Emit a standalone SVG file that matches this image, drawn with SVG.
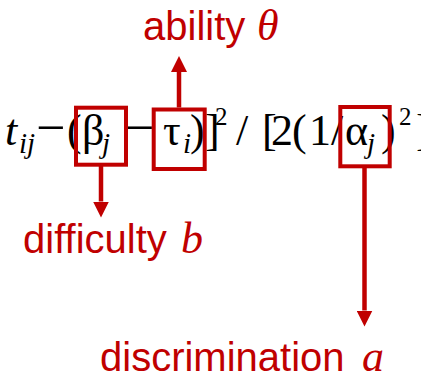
<svg xmlns="http://www.w3.org/2000/svg" width="421" height="378" viewBox="0 0 421 378">
<style>
.f{font-family:"Liberation Serif","Times New Roman",serif;fill:#000}
.it{font-style:italic}
.lab{font-family:"Liberation Sans",Arial,sans-serif;font-size:40px;fill:#C00000}
.var{font-family:"Liberation Serif","Times New Roman",serif;font-style:italic;font-size:44px}
.box{fill:none;stroke:#C00000;stroke-width:4}
.con{stroke:#C00000;stroke-width:4.5;fill:none}
</style>
<defs>
<marker id="ah" markerUnits="userSpaceOnUse" markerWidth="16" markerHeight="16" refX="0" refY="8" orient="auto">
<path d="M0,0 L16,8 L0,16 Z" fill="#C00000"/>
</marker>
</defs>
<rect width="421" height="378" fill="#fff"/>
<g id="formula" class="f">
<text y="145" font-size="44"><tspan class="it" x="5">t</tspan><tspan class="it" x="19" y="153" font-size="29">ij</tspan><tspan x="36" y="145" font-size="52">−</tspan><tspan x="67" y="145">(</tspan><tspan x="82">β</tspan><tspan class="it" x="102" y="153" font-size="29">j</tspan><tspan x="125" y="145" font-size="52">−</tspan><tspan x="163" y="145">τ</tspan><tspan class="it" x="183" y="153" font-size="29">i</tspan><tspan x="190" y="145">)</tspan><tspan x="205">]</tspan><tspan x="215" y="125" font-size="25">2</tspan><tspan x="236" y="145">/</tspan><tspan x="262">[</tspan><tspan x="271">2</tspan><tspan x="292">(</tspan><tspan x="309">1</tspan><tspan x="331">/</tspan><tspan x="345">α</tspan><tspan class="it" x="367" y="153" font-size="29">j</tspan><tspan x="381" y="145">)</tspan><tspan x="399" y="125" font-size="25">2</tspan><tspan x="416" y="145">]</tspan></text>
</g>
<g id="box-beta"><rect class="box" x="76" y="107.7" width="50" height="57"/></g>
<g id="box-tau"><rect class="box" x="153.7" y="109.5" width="51" height="59.5"/></g>
<g id="box-alpha"><rect class="box" x="340.3" y="107" width="49.4" height="59.3"/></g>
<g id="connectors">
<line class="con" x1="179" y1="107.5" x2="179" y2="72" marker-end="url(#ah)"/>
<line class="con" x1="101" y1="166" x2="101" y2="201.5" marker-end="url(#ah)"/>
<line class="con" x1="364.5" y1="168" x2="364.5" y2="310.5" marker-end="url(#ah)"/>
</g>
<g id="label-ability"><text class="lab" x="143" y="40">ability <tspan class="var" x="257">θ</tspan></text></g>
<g id="label-difficulty"><text class="lab" x="23" y="253">difficulty <tspan class="var" x="181">b</tspan></text></g>
<g id="label-discrimination"><text class="lab" x="100" y="371">discrimination <tspan class="var" x="362">a</tspan></text></g>
</svg>
